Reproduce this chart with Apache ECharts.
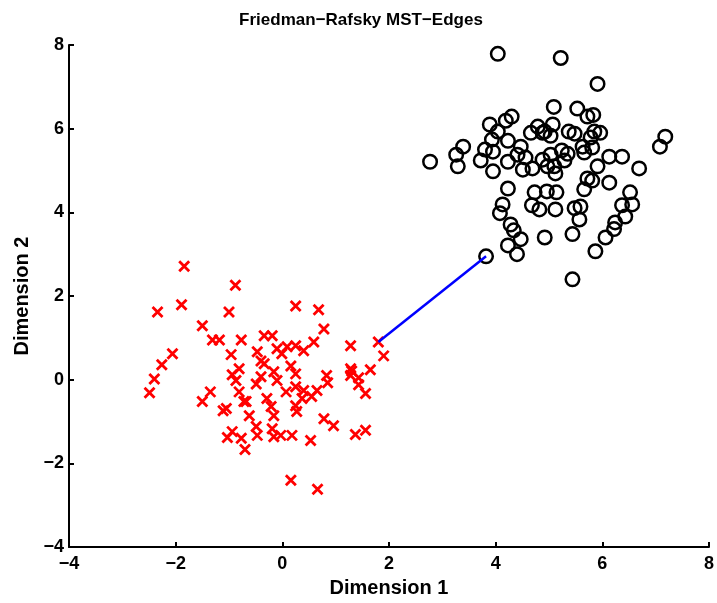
<!DOCTYPE html>
<html><head><meta charset="utf-8">
<script src="https://cdn.jsdelivr.net/npm/echarts@6/dist/echarts.min.js"></script>
<style>html,body{margin:0;padding:0;background:#fff}#c{width:717px;height:603px}</style>
</head><body><div id="c"></div>
<script>
var titleText = "Friedman\u2212Rafsky MST\u2212Edges";
var xName = "Dimension 1";
var yName = "Dimension 2";
var xTicks = [-4, -2, 0, 2, 4, 6, 8];
var yTicks = [-4, -2, 0, 2, 4, 6, 8];

var redX = [-1.84,-0.88,-1.89,-2.34,-1.00,-1.50,-1.31,-1.18,-2.06,-2.26,-2.40,-2.49,-0.94,-1.35,-1.50,-1.11,-1.03,-0.70,-0.72,0.25,0.68,1.80,1.90,
-0.77,-0.34,-0.19,-0.96,-0.47,-0.40,-0.34,-0.10,0.09,-0.01,0.25,0.40,0.59,0.78,1.28,-0.81,-0.87,-0.49,-0.40,-0.16,0.16,-0.10,0.07,0.25,0.40,0.65,0.83,1.28,1.28,-0.81,-0.68,-0.29,-0.21,-0.16,0.25,0.37,0.55,-0.62,-1.05,0.78,0.96,-0.94,-0.77,-0.49,-0.47,-0.19,-0.16,-0.03,0.18,0.53,
0.85,1.30,1.43,1.65,1.43,1.56,1.37,1.56,0.16,0.66,0.25,0.27];
var redY = [2.71,2.26,1.79,1.62,1.62,1.29,0.95,0.95,0.62,0.36,0.02,-0.31,0.12,-0.29,-0.52,-0.74,-1.38,-1.67,-0.52,1.76,1.67,0.90,0.57,
0.95,1.05,1.05,0.60,0.67,0.45,0.38,0.74,0.79,0.62,0.81,0.69,0.90,1.21,0.81,0.26,-0.02,-0.10,0.07,0.19,0.33,-0.02,-0.29,-0.17,-0.26,-0.26,0.10,0.26,0.10,-0.29,-0.52,-0.45,-0.64,-0.86,-0.62,-0.45,-0.40,-0.86,-0.69,-0.93,-1.10,-1.24,-1.40,-1.12,-1.33,-1.17,-1.36,-1.33,-1.33,-1.45,
-0.07,0.21,0.05,0.24,-0.12,-0.33,-1.31,-1.21,-2.40,-2.62,0.14,-0.76];

var blackX = [4.04,5.22,5.91,5.09,5.53,5.72,5.83,7.18,7.08,6.69,6.37,6.13,2.77,3.29,3.39,3.26,3.80,3.89,4.19,4.30,4.04,3.93,4.23,3.95,3.72,3.95,4.23,4.47,4.41,4.56,4.51,4.69,4.66,4.79,4.88,5.07,4.92,5.03,5.37,5.48,5.85,5.96,5.78,5.63,5.81,5.66,5.24,5.35,5.03,4.88,5.29,4.97,5.10,5.12,5.91,5.72,5.81,6.13,5.66,4.96,5.14,4.73,4.23,6.52,6.56,6.37,5.48,5.59,5.12,4.68,4.82,4.13,4.08,5.57,6.43,6.24,6.22,6.06,5.44,4.92,5.87,5.44,4.28,4.34,4.47,4.23,4.40,3.82];
var blackY = [7.79,7.69,7.07,6.52,6.48,6.29,6.33,5.81,5.57,5.05,5.33,5.33,5.21,5.10,5.57,5.38,5.50,6.10,6.19,6.29,5.93,5.74,5.71,5.45,5.24,4.98,5.21,5.57,5.38,5.31,5.02,5.05,5.90,6.05,5.90,6.10,5.93,5.83,5.93,5.88,5.93,5.90,5.79,5.57,5.55,5.43,5.48,5.40,5.38,5.26,5.24,5.10,5.10,4.93,5.10,4.81,4.76,4.71,4.55,4.50,4.48,4.48,4.57,4.48,4.19,4.17,4.10,4.14,4.07,4.17,4.07,4.19,3.98,3.83,3.90,3.76,3.60,3.40,3.48,3.40,3.07,2.40,3.71,3.57,3.36,3.21,3.00,2.95];

var edgeX = [1.80, 3.82];
var edgeY = [0.90, 2.95];

function zip(a, b) { return a.map(function (v, i) { return [v, b[i]]; }); }
function fmt(v) { return String(v).replace('-', '\u2212'); }

var FONT = '"Liberation Sans", Arial, sans-serif';
var chart = echarts.init(document.getElementById('c'), null, {renderer: 'canvas'});
var axisCommon = {
  type: 'value', min: -4, max: 8, interval: 2,
  axisLine: {show: true, onZero: false, lineStyle: {color: '#000', width: 2}},
  axisTick: {show: true, inside: true, length: 5, lineStyle: {color: '#000', width: 2}},
  splitLine: {show: false},
  axisLabel: {color: '#000', fontWeight: 'bold', fontSize: 18, fontFamily: FONT, formatter: fmt},
  nameLocation: 'middle',
  nameTextStyle: {color: '#000', fontWeight: 'bold', fontSize: 20, fontFamily: FONT}
};
chart.setOption({
  animation: false,
  title: {text: titleText, left: 356, top: 7, textAlign: 'center',
    textStyle: {color: '#000', fontWeight: 'bold', fontSize: 17, fontFamily: FONT}},
  grid: {left: 69, right: 5, top: 45, bottom: 54, containLabel: false},
  xAxis: Object.assign({}, axisCommon, {name: xName, nameGap: 28,
    axisLabel: Object.assign({}, axisCommon.axisLabel, {margin: 8})}),
  yAxis: Object.assign({}, axisCommon, {name: yName, nameGap: 34,
    axisLabel: Object.assign({}, axisCommon.axisLabel, {margin: 5})}),
  series: [
    {type: 'scatter', data: zip(redX, redY), symbol: 'path://M0,0L10,10M10,0L0,10', symbolSize: 10,
      itemStyle: {color: 'transparent', borderColor: '#ff0000', borderWidth: 2.8, opacity: 1}},
    {type: 'scatter', data: zip(blackX, blackY), symbol: 'circle', symbolSize: 13.5,
      itemStyle: {color: 'transparent', borderColor: '#000', borderWidth: 2.5, opacity: 1}},
    {type: 'line', data: zip(edgeX, edgeY), symbol: 'none',
      lineStyle: {color: '#0000ff', width: 2.5}, z: 5}
  ]
});
</script></body></html>
